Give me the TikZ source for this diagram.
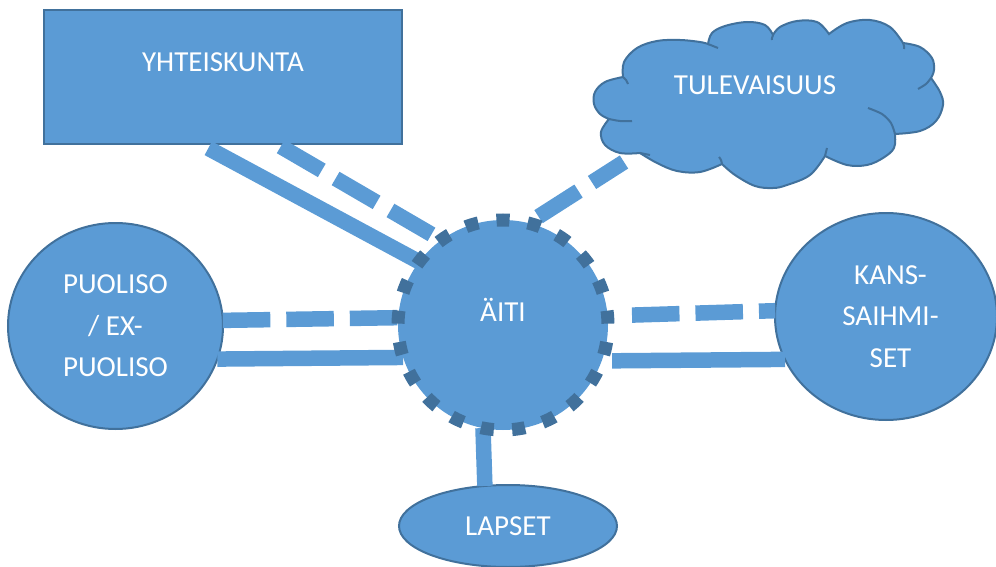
\documentclass[tikz,border=0pt]{standalone}
\usepackage{fontspec}
\setmainfont{Carlito}
\usetikzlibrary{shapes.geometric}
\definecolor{shapefill}{HTML}{5B9BD5}
\definecolor{shapeline}{HTML}{41719C}
\pgfdeclarelayer{front}
\pgfsetlayers{main,front}
\newcommand{\rtext}[2]{\raisebox{\dimexpr #1-9.15pt\relax}[0pt][0pt]{#2}}
\tikzset{
  shp/.style={fill=shapefill, draw=shapeline, line width=2pt, inner sep=0pt, outer sep=0pt, text=white, font=\fontsize{29pt}{41.5pt}\selectfont},
  oval/.style={shp, ellipse},
  rectbox/.style={shp, rectangle},
  conn/.style={draw=shapefill, line width=15.5pt},
  dashconn/.style={conn, dash pattern=on 47.5pt off 16pt},
  aitistyle/.style={shp, circle, minimum size=210pt, line width=13pt, dash pattern=on 13pt off 18.416pt, dash phase=30.062pt},
  cloudinner/.style={draw=shapeline, line width=2pt},
  txtonly/.style={text=white, font=\fontsize{29pt}{41.5pt}\selectfont, inner sep=0pt},
}
\begin{document}
\begin{tikzpicture}[x=1pt, y=-1pt]
\useasboundingbox (0,0) rectangle (996,567);

% cloud
\path[shp] plot[smooth, tension=0.6] coordinates {(609,119) (600,114) (594,104) (595,92) (605,82) (623,77)}
 -- plot[smooth, tension=0.6] coordinates {(623,77) (624,62) (637,48) (657,41) (680,40) (700,42) (708,44)}
 -- plot[smooth, tension=0.6] coordinates {(708,44) (712,33) (725,26) (747,22) (765,25) (773,35)}
 -- plot[smooth, tension=0.6] coordinates {(773,35) (780,27) (797,21) (817,22) (829,34)}
 -- plot[smooth, tension=0.6] coordinates {(829,34) (847,23) (870,20) (890,27) (903,43)}
 -- plot[smooth, tension=0.6] coordinates {(903,43) (920,47) (932,58) (934,70) (931,78)}
 -- plot[smooth, tension=0.6] coordinates {(931,78) (940,92) (943,105) (936,121) (920,131) (895,134)}
 -- plot[smooth, tension=0.6] coordinates {(895,134) (894,148) (883,158) (867,165) (847,165) (825,156)}
 -- plot[smooth, tension=0.6] coordinates {(825,156) (810,175) (787,185) (773,188) (755,186) (735,175) (722,164)}
 -- plot[smooth, tension=0.6] coordinates {(722,164) (700,172) (677,171) (657,163) (640,153)}
 -- plot[smooth, tension=0.6] coordinates {(640,153) (620,153) (605,145) (601,132) (609,119)}
 -- cycle;
\draw[cloudinner] plot[smooth] coordinates {(609,119) (620,121) (632,121)};
\draw[cloudinner] plot[smooth] coordinates {(623,77) (626,80) (628,84)};
\draw[cloudinner] plot[smooth] coordinates {(708,44) (713,46) (718,48)};
\draw[cloudinner] plot[smooth] coordinates {(773,35) (772,38) (772,40)};
\draw[cloudinner] plot[smooth] coordinates {(903,43) (904,46) (904,49)};
\draw[cloudinner] plot[smooth] coordinates {(931,78) (926,84) (918,89)};
\draw[cloudinner] plot[smooth] coordinates {(868,108) (882,114) (891,123) (895,134)};
\draw[cloudinner] plot[smooth] coordinates {(825,156) (826,152) (827,148)};
\draw[cloudinner] plot[smooth] coordinates {(722,164) (721,160) (719,157)};
\draw[cloudinner] plot[smooth] coordinates {(640,153) (645,154) (650,155)};
\node[txtonly] (tul) at (755,85) {\rtext{0pt}{TULEVAISUUS}};
\coordinate (tulend) at (624,162);

% shapes
\node[rectbox, minimum width=358pt, minimum height=134pt] (yht) at (223,77.5) {\rtext{15.5pt}{YHTEISKUNTA}};
\node[oval, minimum width=215pt, minimum height=206pt, align=center] (puo) at (115.5,326) {PUOLISO\\/ EX-\\PUOLISO};
\node[oval, minimum width=222pt, minimum height=207pt, align=center] (kans) at (886,316.5) {\hspace*{9pt}KANS-\\\hspace*{9pt}SAIHMI-\\\hspace*{9pt}SET};
\node[oval, minimum width=218pt, minimum height=82pt] (lap) at (508,526) {\rtext{0pt}{LAPSET}};
\begin{pgfonlayer}{front}
\node[aitistyle] (aiti) at (503,325) {\rtext{13pt}{ÄITI}};
\end{pgfonlayer}

% connectors
\draw[conn, shorten <=8pt] (yht.-108.05) -- (aiti.143.1);
\draw[dashconn, shorten <=4pt] (yht.-51.34) -- (aiti.126.5);
\draw[dashconn, dash phase=51.5pt] (aiti.76.45) -- (tulend);
\draw[dashconn] (puo.3.73) -- (aiti.176.72);
\draw[conn] (puo.-18.8) -- (aiti.198.9);
\draw[dashconn, dash phase=47.5pt, shorten <=8.4pt] (aiti.5.03) -- (kans.177.93);
\draw[conn, shorten <=10.5pt] (aiti.-20.6) -- (kans.203.1);
\draw[conn] (aiti.259.6) -- (lap.120.96);
\end{tikzpicture}
\end{document}
